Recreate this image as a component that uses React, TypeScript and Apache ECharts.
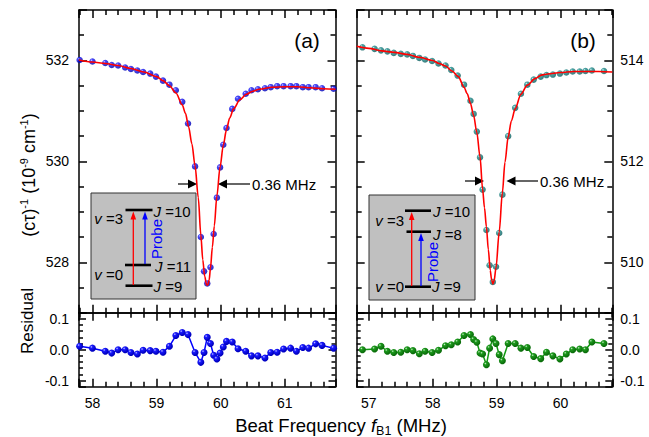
import React, { useEffect, useRef } from "react";
import * as echarts from "echarts";

// ---------- Panel (a) data ----------
const aX = [57.80, 58.0, 58.2, 58.3, 58.4, 58.51, 58.6, 58.7, 58.79, 58.9, 58.99, 59.1, 59.2, 59.3, 59.4, 59.49, 59.6, 59.69, 59.74, 59.79, 59.84, 59.89, 59.94, 59.99, 60.04, 60.09, 60.18, 60.27, 60.39, 60.48, 60.58, 60.69, 60.78, 60.88, 60.98, 61.09, 61.18, 61.28, 61.37, 61.48, 61.58, 61.76];
const aY = [532.01, 531.98, 531.95, 531.91, 531.90, 531.86, 531.83, 531.80, 531.77, 531.74, 531.68, 531.60, 531.52, 531.41, 531.18, 530.75, 529.90, 528.50, 527.82, 527.58, 527.90, 528.56, 529.28, 529.88, 530.33, 530.66, 531.04, 531.24, 531.34, 531.41, 531.43, 531.45, 531.47, 531.49, 531.49, 531.49, 531.49, 531.47, 531.47, 531.47, 531.45, 531.44];
const aRes = [0.011, 0.005, -0.005, -0.011, 0.0, 0.0, -0.009, -0.014, -0.002, -0.003, -0.005, -0.008, 0.011, 0.046, 0.056, 0.049, -0.009, -0.041, -0.009, 0.040, 0.020, -0.018, -0.030, -0.011, 0.009, 0.027, 0.025, 0.003, -0.005, -0.020, -0.020, -0.027, -0.009, -0.008, 0.002, 0.005, -0.005, 0.007, 0.005, 0.019, 0.014, 0.005];
const aFitX = [57.79, 58.0, 58.2, 58.4, 58.6, 58.8, 59.0, 59.1, 59.2, 59.3, 59.4, 59.45, 59.5, 59.55, 59.6, 59.65, 59.69, 59.72, 59.75, 59.78, 59.80, 59.82, 59.84, 59.87, 59.90, 59.94, 59.99, 60.04, 60.09, 60.14, 60.2, 60.3, 60.4, 60.5, 60.6, 60.8, 61.0, 61.2, 61.4, 61.6, 61.79];
const aFitY = [532.01, 531.97, 531.94, 531.90, 531.84, 531.77, 531.68, 531.60, 531.50, 531.36, 531.12, 530.95, 530.68, 530.35, 529.91, 529.28, 528.54, 528.05, 527.72, 527.55, 527.55, 527.65, 527.88, 528.30, 528.72, 529.31, 529.89, 530.32, 530.63, 530.86, 531.04, 531.22, 531.33, 531.39, 531.43, 531.47, 531.48, 531.48, 531.46, 531.44, 531.43];

// ---------- Panel (b) data ----------
const bX = [56.90, 57.09, 57.19, 57.29, 57.39, 57.50, 57.60, 57.69, 57.79, 57.88, 57.99, 58.09, 58.20, 58.29, 58.39, 58.49, 58.59, 58.64, 58.69, 58.74, 58.78, 58.84, 58.89, 58.94, 58.99, 59.04, 59.09, 59.18, 59.29, 59.38, 59.48, 59.58, 59.69, 59.78, 59.88, 59.99, 60.09, 60.19, 60.30, 60.39, 60.49, 60.68];
const bY = [514.26, 514.23, 514.20, 514.18, 514.15, 514.13, 514.12, 514.09, 514.05, 514.02, 513.99, 513.94, 513.90, 513.81, 513.70, 513.52, 513.20, 512.94, 512.59, 512.08, 511.44, 510.64, 509.94, 509.61, 509.91, 510.58, 511.34, 512.50, 513.06, 513.34, 513.52, 513.62, 513.68, 513.71, 513.72, 513.74, 513.76, 513.78, 513.78, 513.79, 513.80, 513.79];
const bRes = [0.0, 0.002, 0.011, -0.005, -0.009, -0.008, 0.0, -0.003, -0.013, -0.005, -0.009, -0.002, 0.013, 0.016, 0.025, 0.046, 0.049, 0.033, 0.024, -0.011, -0.014, -0.049, 0.005, 0.035, 0.020, -0.016, -0.036, 0.020, 0.020, 0.005, 0.007, -0.022, -0.029, -0.008, -0.020, -0.030, -0.014, 0.0, 0.002, 0.0, 0.025, 0.020];
const bFitX = [56.81, 57.0, 57.2, 57.4, 57.6, 57.8, 58.0, 58.1, 58.2, 58.3, 58.4, 58.49, 58.54, 58.59, 58.64, 58.69, 58.74, 58.78, 58.81, 58.84, 58.87, 58.9, 58.92, 58.94, 58.96, 58.99, 59.04, 59.09, 59.13, 59.18, 59.23, 59.29, 59.38, 59.48, 59.6, 59.7, 59.8, 60.0, 60.2, 60.4, 60.6, 60.81];
const bFitY = [514.28, 514.24, 514.19, 514.16, 514.12, 514.06, 514.00, 513.94, 513.89, 513.79, 513.68, 513.47, 513.34, 513.15, 512.91, 512.57, 512.09, 511.45, 511.08, 510.70, 510.25, 509.84, 509.66, 509.57, 509.63, 509.89, 510.60, 511.38, 511.98, 512.48, 512.80, 513.04, 513.33, 513.51, 513.64, 513.71, 513.73, 513.76, 513.78, 513.78, 513.78, 513.77];

// ---------- Axis ranges ----------
const aXRange = [57.79, 61.79];
const bXRange = [56.81, 60.81];
const aYRange = [527, 533];
const bYRange = [509, 515];
const resRange = [-0.12, 0.12];

const FONT = "'Liberation Sans', Arial, Helvetica, sans-serif";
const pairs = (xs: number[], ys: number[]) => xs.map((x, i) => [x, ys[i]]);

const intLabel = (v: number) =>
  Math.abs(v - Math.round(v)) < 1e-6 ? String(Math.round(v)) : "";
const evenLabel = (v: number) =>
  Math.abs(v - Math.round(v)) < 1e-6 && Math.round(v) % 2 === 0 ? String(Math.round(v)) : "";
const resLabel = (v: number) => {
  const t = Math.round(v * 10);
  return Math.abs(v * 10 - t) < 1e-6 ? (t / 10).toFixed(1) : "";
};

function ticks(len: number, minorLen: number, minorSplit: number) {
  return {
    axisTick: { show: true, inside: true, length: len, lineStyle: { color: "#000", width: 1.5 } },
    minorTick: { show: true, splitNumber: minorSplit, length: minorLen, lineStyle: { color: "#000", width: 1.5 } },
  };
}

function xAx(grid: number, range: number[], pos: string, showLabel: boolean, t: any) {
  return {
    type: "value",
    gridIndex: grid,
    position: pos,
    min: range[0],
    max: range[1],
    splitNumber: 4,
    axisLine: { show: true, onZero: false, lineStyle: { color: "#000", width: 1.5 } },
    ...t,
    splitLine: { show: false },
    minorSplitLine: { show: false },
    axisLabel: {
      show: showLabel,
      margin: 9,
      fontSize: 14,
      color: "#000",
      fontFamily: FONT,
      formatter: intLabel,
    },
  };
}

function yAx(grid: number, range: number[], pos: string, showLabel: boolean, residual: boolean, t: any) {
  return {
    type: "value",
    gridIndex: grid,
    position: pos,
    min: range[0],
    max: range[1],
    splitNumber: residual ? 2 : 3,
    axisLine: { show: true, onZero: false, lineStyle: { color: "#000", width: 1.5 } },
    ...t,
    splitLine: { show: false },
    minorSplitLine: { show: false },
    axisLabel: {
      show: showLabel,
      margin: pos === "left" ? 10 : 8,
      fontSize: 14,
      color: "#000",
      fontFamily: FONT,
      formatter: residual ? resLabel : evenLabel,
    },
  };
}

const ball = (hi: string, mid: string, base: string) =>
  new echarts.graphic.RadialGradient(0.35, 0.32, 0.6, [
    { offset: 0, color: hi },
    { offset: 0.3, color: mid },
    { offset: 1, color: base },
  ]);

function arrowUp(x: number, y0: number, y1: number, color: string) {
  return [
    { type: "line", shape: { x1: x, y1: y0, x2: x, y2: y1 + 7 }, style: { stroke: color, lineWidth: 1.3 } },
    { type: "polygon", shape: { points: [[x, y1], [x - 2.8, y1 + 8], [x + 2.8, y1 + 8]] }, style: { fill: color } },
  ];
}

function level(x1: number, x2: number, y: number) {
  return { type: "line", shape: { x1, y1: y, x2, y2: y }, style: { stroke: "#000", lineWidth: 2.6 } };
}

function txt(x: number, y: number, text: string, align: string, extra: any = {}) {
  return {
    type: "text",
    x,
    y,
    style: {
      text,
      align,
      verticalAlign: "middle",
      fontSize: 15,
      fontFamily: FONT,
      fill: "#000",
      rich: {
        i: { fontStyle: "italic", fontSize: 15, fontFamily: FONT, fill: "#000" },
        n: { fontSize: 15, fontFamily: FONT, fill: "#000" },
      },
      ...extra,
    },
  };
}

function widthArrows(xl0: number, xl1: number, xr0: number, xr1: number, y: number) {
  return [
    { type: "line", shape: { x1: xl0, y1: y, x2: xl1 - 8, y2: y }, style: { stroke: "#000", lineWidth: 1.2 } },
    { type: "polygon", shape: { points: [[xl1, y], [xl1 - 9, y - 4.5], [xl1 - 9, y + 4.5]] }, style: { fill: "#000" } },
    { type: "polygon", shape: { points: [[xr0, y], [xr0 + 9, y - 4.5], [xr0 + 9, y + 4.5]] }, style: { fill: "#000" } },
    { type: "line", shape: { x1: xr0 + 8, y1: y, x2: xr1, y2: y }, style: { stroke: "#000", lineWidth: 1.2 } },
  ];
}

function buildOption() {
  const grids = [
    { left: 79, top: 10, width: 256.5, height: 302.7 },
    { left: 79, top: 312.7, width: 256.5, height: 74 },
    { left: 356.7, top: 10, width: 255.6, height: 302.7 },
    { left: 356.7, top: 312.7, width: 255.6, height: 74 },
  ].map((g) => ({ ...g, containLabel: false, show: false }));

  const tX = ticks(8, 5, 5);
  const tY = ticks(8, 5, 4);
  const tRy = ticks(7, 4, 5);

  const xAxis = [
    xAx(0, aXRange, "bottom", false, tX), xAx(0, aXRange, "top", false, tX),
    xAx(1, aXRange, "bottom", true, tX), xAx(1, aXRange, "top", false, tX),
    xAx(2, bXRange, "bottom", false, tX), xAx(2, bXRange, "top", false, tX),
    xAx(3, bXRange, "bottom", true, tX), xAx(3, bXRange, "top", false, tX),
  ];
  const yAxis = [
    yAx(0, aYRange, "left", true, false, tY), yAx(0, aYRange, "right", false, false, tY),
    yAx(1, resRange, "left", true, true, tRy), yAx(1, resRange, "right", false, true, tRy),
    yAx(2, bYRange, "left", false, false, tY), yAx(2, bYRange, "right", true, false, tY),
    yAx(3, resRange, "left", false, true, tRy), yAx(3, resRange, "right", true, true, tRy),
  ];

  const series: any[] = [
    {
      type: "scatter", xAxisIndex: 0, yAxisIndex: 0, data: pairs(aX, aY), symbolSize: 6.5, z: 2,
      itemStyle: { color: ball("#d0d0ff", "#1a1aff", "#0000b8") },
    },
    {
      type: "line", xAxisIndex: 0, yAxisIndex: 0, data: pairs(aFitX, aFitY), showSymbol: false, symbol: "none",
      smooth: 0.3, smoothMonotone: "x", z: 3, lineStyle: { color: "#ff0000", width: 1.6 },
    },
    {
      type: "line", xAxisIndex: 2, yAxisIndex: 2, data: pairs(aX, aRes), symbol: "circle", symbolSize: 7, z: 3,
      lineStyle: { color: "#0000ff", width: 1.5 }, itemStyle: { color: ball("#c8c8ff", "#1a1aff", "#0000c0") },
    },
    {
      type: "scatter", xAxisIndex: 4, yAxisIndex: 4, data: pairs(bX, bY), symbolSize: 6.5, z: 2,
      itemStyle: { color: ball("#d8f2f2", "#1f9090", "#0e6363") },
    },
    {
      type: "line", xAxisIndex: 4, yAxisIndex: 4, data: pairs(bFitX, bFitY), showSymbol: false, symbol: "none",
      smooth: 0.3, smoothMonotone: "x", z: 3, lineStyle: { color: "#ff0000", width: 1.6 },
    },
    {
      type: "line", xAxisIndex: 6, yAxisIndex: 6, data: pairs(bX, bRes), symbol: "circle", symbolSize: 7, z: 3,
      lineStyle: { color: "#119911", width: 1.5 }, itemStyle: { color: ball("#c8eec8", "#1d9a1d", "#0b6e0b") },
    },
  ];

  const graphic: any[] = [
    txt(307, 40, "(a)", "center", { fontSize: 21 }),
    txt(583, 40, "(b)", "center", { fontSize: 21 }),
    ...widthArrows(178, 197, 218, 250, 184),
    txt(252, 184, "0.36 MHz", "left"),
    ...widthArrows(465, 484, 506.5, 538, 181),
    txt(540, 181, "0.36 MHz", "left"),
    { type: "rect", shape: { x: 91, y: 193, width: 105, height: 106 }, style: { fill: "#c0c0c0", stroke: "#333", lineWidth: 1 } },
    level(125.5, 152.5, 210),
    level(125, 151, 265),
    level(125.5, 152.5, 285.7),
    ...arrowUp(133.3, 285, 211.5, "#ff0000"),
    ...arrowUp(145, 264, 211.5, "#0000ff"),
    txt(123, 218.5, "{i|v}{n| =3}", "right"),
    txt(123, 274.5, "{i|v}{n| =0}", "right"),
    txt(153.5, 211.5, "{i|J}{n| =10}", "left"),
    txt(155, 266.5, "{i|J}{n| =11}", "left"),
    txt(153.5, 286.7, "{i|J}{n| =9}", "left"),
    { type: "text", x: 156, y: 239, rotation: Math.PI / 2, style: { text: "Probe", align: "center", verticalAlign: "middle", fontSize: 15, fontFamily: FONT, fill: "#0000ff" } },
    { type: "rect", shape: { x: 369, y: 195, width: 106, height: 105 }, style: { fill: "#c0c0c0", stroke: "#333", lineWidth: 1 } },
    level(405, 431, 210.7),
    level(406.5, 431, 231.7),
    level(405, 431, 286.7),
    ...arrowUp(411.7, 286, 212, "#ff0000"),
    ...arrowUp(421, 286, 233, "#0000ff"),
    txt(404, 220, "{i|v}{n| =3}", "right"),
    txt(404, 286, "{i|v}{n| =0}", "right"),
    txt(433, 211.7, "{i|J}{n| =10}", "left"),
    txt(433, 234, "{i|J}{n| =8}", "left"),
    txt(432, 286.7, "{i|J}{n| =9}", "left"),
    { type: "text", x: 432, y: 262, rotation: Math.PI / 2, style: { text: "Probe", align: "center", verticalAlign: "middle", fontSize: 15, fontFamily: FONT, fill: "#0000ff" } },
    {
      type: "text", x: 29, y: 175, rotation: Math.PI / 2,
      style: {
        text: "{n|(cτ)}{s|-1}{n| (10}{s|-9}{n| cm}{s|-1}{n|)}",
        align: "center", verticalAlign: "middle", fontFamily: FONT, fill: "#000",
        rich: {
          n: { fontSize: 18, lineHeight: 22, fontFamily: FONT, fill: "#000" },
          s: { fontSize: 11, lineHeight: 11, verticalAlign: "top", fontFamily: FONT, fill: "#000" },
        },
      },
    },
    {
      type: "text", x: 27, y: 321, rotation: Math.PI / 2,
      style: { text: "Residual", align: "center", verticalAlign: "middle", fontSize: 17, fontFamily: FONT, fill: "#000" },
    },
    {
      type: "text", x: 341, y: 425,
      style: {
        text: "{n|Beat Frequency }{i|f}{s|B1}{n| (MHz)}",
        align: "center", verticalAlign: "middle", fontFamily: FONT, fill: "#000",
        rich: {
          n: { fontSize: 18.5, lineHeight: 24, fontFamily: FONT, fill: "#000" },
          i: { fontSize: 18.5, lineHeight: 24, fontStyle: "italic", fontFamily: FONT, fill: "#000" },
          s: { fontSize: 12.5, lineHeight: 13, verticalAlign: "bottom", fontFamily: FONT, fill: "#000" },
        },
      },
    },
  ];

  return {
    animation: false,
    backgroundColor: "#ffffff",
    textStyle: { fontFamily: FONT },
    grid: grids,
    xAxis,
    yAxis,
    series,
    graphic,
  };
}

export default function App() {
  const ref = useRef<HTMLDivElement>(null);
  useEffect(() => {
    document.body.style.margin = "0";
    const chart = echarts.init(ref.current as HTMLDivElement, null, { renderer: "svg" });
    chart.setOption(buildOption() as any);
    return () => chart.dispose();
  }, []);
  return <div ref={ref} style={{ position: "absolute", left: 0, top: 0, width: 649, height: 437 }} />;
}
